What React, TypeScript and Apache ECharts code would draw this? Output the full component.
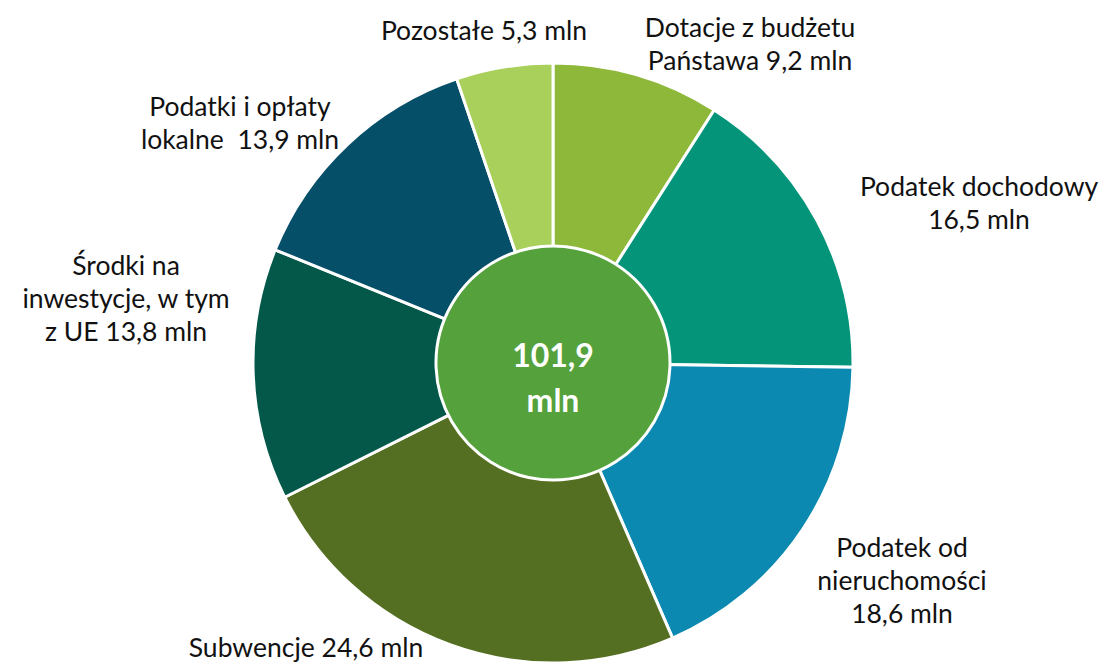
import React, { useEffect, useRef } from "react";
import * as echarts from "echarts";

const categories = [
  "Dotacje z budżetu\nPaństawa",
  "Podatek dochodowy\n",
  "Podatek od\nnieruchomości\n",
  "Subwencje",
  "Środki na\ninwestycje, w tym\nz UE",
  "Podatki i opłaty\nlokalne ",
  "Pozostałe",
];
const values = [9.2, 16.5, 18.6, 24.6, 13.8, 13.9, 5.3];
const colors = ["#8db83a", "#03947a", "#0b89b1", "#556f22", "#03584a", "#064f69", "#a8d05a"];

const fmt = (v: number) => v.toFixed(1).replace(".", ",");

// label anchor positions (layout only)
const labelPos: [number, number][] = [
  [750, 43],
  [979, 202],
  [902, 580],
  [306, 647],
  [126, 298],
  [240, 122],
  [484, 30],
];

export default function App() {
  const ref = useRef<HTMLDivElement>(null);
  useEffect(() => {
    document.body.style.margin = "0";
    const chart = echarts.init(ref.current!, undefined, { renderer: "svg" });
    const total = values.reduce((a, b) => a + b, 0);
    chart.setOption({
      animation: false,
      backgroundColor: "#ffffff",
      series: [
        {
          type: "pie",
          center: [553, 363],
          radius: [0, 300],
          startAngle: 90,
          clockwise: true,
          silent: true,
          data: categories.map((n, i) => ({
            name: n,
            value: values[i],
            itemStyle: { color: colors[i] },
          })),
          itemStyle: { borderColor: "#ffffff", borderWidth: 3 },
          label: {
            show: true,
            position: "outside",
            overflow: "none",
            formatter: (p: any) =>
              p.name.endsWith("\n") ? `${p.name}${fmt(p.value)} mln` : `${p.name} ${fmt(p.value)} mln`,
            fontFamily: "Lato, 'Noto Sans', sans-serif",
            fontSize: 26.5,
            lineHeight: 33,
            color: "#111111",
            align: "center",
          },
          labelLine: { show: false },
          labelLayout: (p: any) => ({
            x: labelPos[p.dataIndex][0],
            y: labelPos[p.dataIndex][1],
            align: "center",
            verticalAlign: "middle",
          }),
        },
        {
          type: "pie",
          center: [553, 363],
          radius: [0, 117],
          silent: true,
          data: [{ name: "total", value: total }],
          itemStyle: { color: "#55a13c", borderColor: "#ffffff", borderWidth: 3 },
          label: {
            show: true,
            position: "center",
            formatter: () => `${fmt(total)}\nmln`,
            fontFamily: "Lato, 'Noto Sans', sans-serif",
            fontWeight: "bold",
            fontSize: 32,
            lineHeight: 45,
            color: "#ffffff",
          },
          labelLine: { show: false },
          labelLayout: () => ({ dy: 14 }),
        },
      ],
    });
    return () => chart.dispose();
  }, []);
  return <div ref={ref} style={{ width: 1105, height: 666 }} />;
}
